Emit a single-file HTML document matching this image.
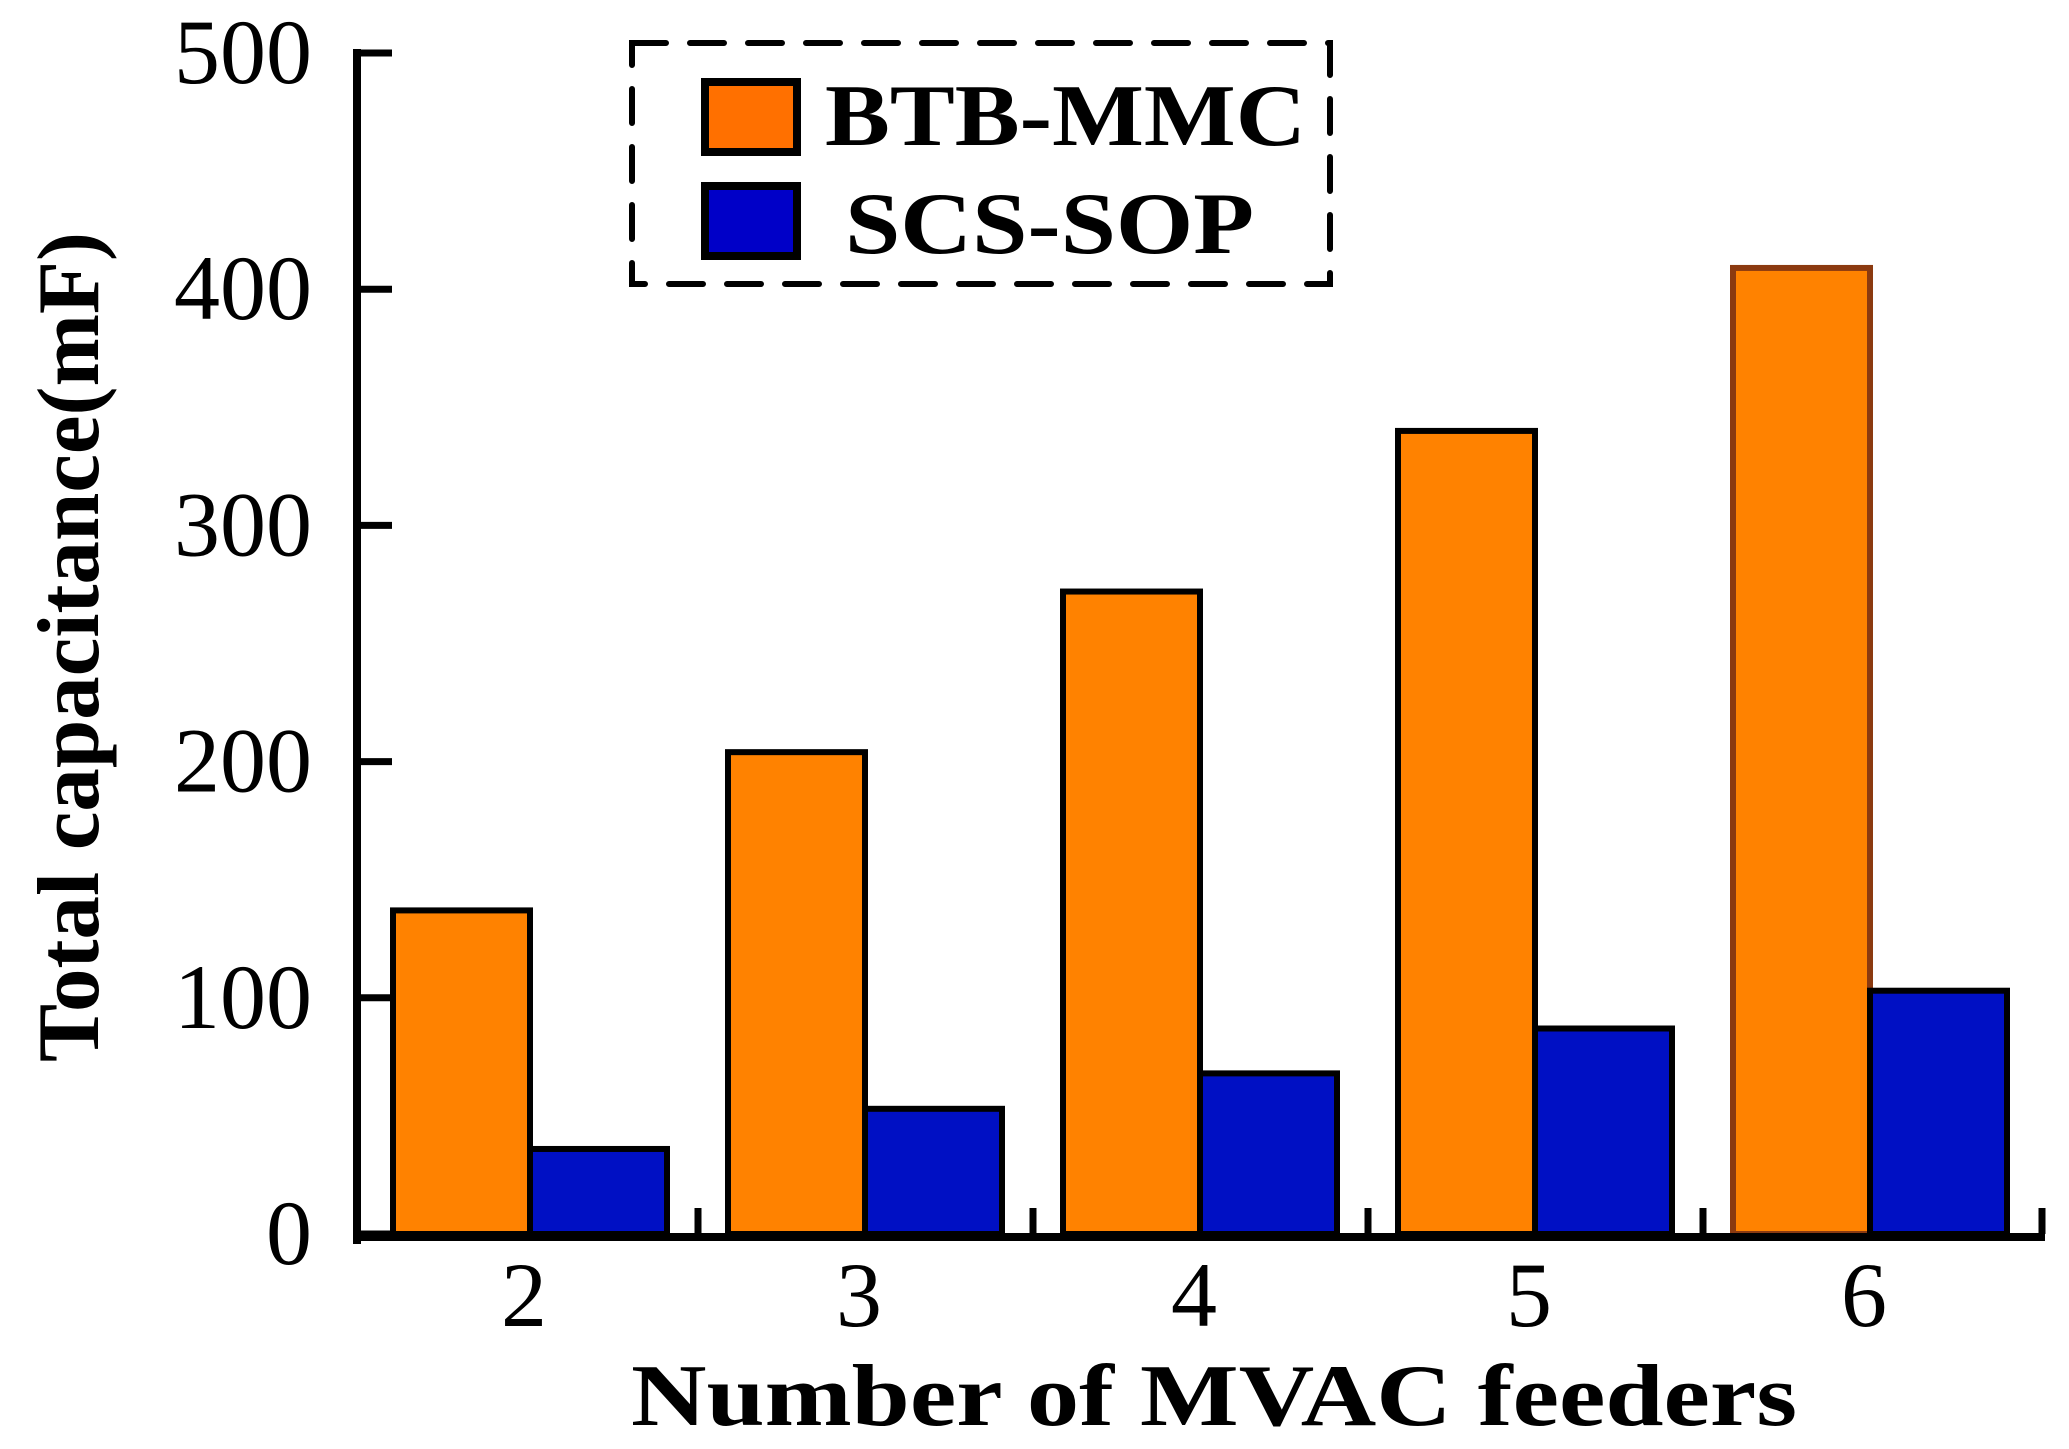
<!DOCTYPE html>
<html><head><meta charset="utf-8"><style>
html,body{margin:0;padding:0;background:#fff;}
svg{display:block;font-family:"Liberation Serif",serif;}
</style></head><body>
<svg id="chart" width="2069" height="1449" viewBox="0 0 2069 1449" xmlns="http://www.w3.org/2000/svg">
<g id="bars"></g>
<g id="axes"></g>
<text transform="translate(98,647) rotate(-90)" text-anchor="middle" font-size="88" font-weight="bold" textLength="830" lengthAdjust="spacingAndGlyphs">Total capacitance(mF)</text>
<text x="1214" y="1425" text-anchor="middle" font-size="88" font-weight="bold" textLength="1166" lengthAdjust="spacingAndGlyphs">Number of MVAC feeders</text>
<g>
<rect x="632" y="43" width="698" height="241" fill="none" stroke="#000" stroke-width="6" stroke-dasharray="34,24" stroke-linecap="round"/>
<rect x="705" y="82" width="92" height="70" fill="#FF7000" stroke="#000" stroke-width="8"/>
<text x="825" y="145" font-size="88" font-weight="bold" textLength="481" lengthAdjust="spacingAndGlyphs">BTB-MMC</text>
<rect x="705" y="186" width="92" height="70" fill="#0000C8" stroke="#000" stroke-width="8"/>
<text x="845" y="253" font-size="88" font-weight="bold" textLength="409" lengthAdjust="spacingAndGlyphs">SCS-SOP</text>
</g>
</svg>
<script>
const categories = ["2","3","4","5","6"];
const btbValues = [137, 204, 272, 340, 409];
const scsValues = [36, 53, 68, 87, 103];
const yTicks = [0, 100, 200, 300, 400, 500];

const NS = "http://www.w3.org/2000/svg";
const y0 = 1234, yTop = 53, yMax = 500;
function yScale(v){ return y0 - v * (y0 - yTop) / yMax; }
function xCenter(i){ return 530 + i * 335; }
const barW = 137;

const bars = document.getElementById('bars');
const axes = document.getElementById('axes');
function mk(tag, attrs, parent){
  const e = document.createElementNS(NS, tag);
  for (const k in attrs) e.setAttribute(k, attrs[k]);
  parent.appendChild(e);
  return e;
}
categories.forEach((c, i) => {
  const xc = xCenter(i);
  const o = mk('rect', {x: xc - barW, y: yScale(btbValues[i]), width: barW, height: y0 - yScale(btbValues[i]), fill: '#FF8200', stroke: i === 4 ? '#8B3A10' : '#000', 'stroke-width': 6}, bars);
  
  
  const b = mk('rect', {x: xc, y: yScale(scsValues[i]), width: barW, height: y0 - yScale(scsValues[i]), fill: '#0010C4', stroke: '#000', 'stroke-width': 6}, bars);
  
  
  const t = mk('text', {x: xc - 6, y: 1326, 'text-anchor': 'middle', 'font-size': 92}, axes);
  t.textContent = c;
  
  
  if (i < categories.length - 1) {
    const m = mk('line', {x1: xc + 168, x2: xc + 168, y1: y0, y2: y0 - 26, stroke: '#000', 'stroke-width': 7}, axes);
    
    
  }
});
const ya = mk('line', {x1: 357, x2: 357, y1: yTop - 4, y2: y0 + 10, stroke: '#000', 'stroke-width': 8}, axes);


const xa = mk('line', {x1: 354, x2: 2045, y1: y0 + 3, y2: y0 + 3, stroke: '#000', 'stroke-width': 8}, axes);


const re = mk('line', {x1: 2042, x2: 2042, y1: y0, y2: y0 - 26, stroke: '#000', 'stroke-width': 7}, axes);


yTicks.forEach(v => {
  const y = yScale(v);
  const tk = mk('line', {x1: 357, x2: 392, y1: y, y2: y, stroke: '#000', 'stroke-width': 7}, axes);
  
  
  const t = mk('text', {x: 312, y: y + 30, 'text-anchor': 'end', 'font-size': 92}, axes);
  t.textContent = v;
  
  
});
</script>
</body></html>
